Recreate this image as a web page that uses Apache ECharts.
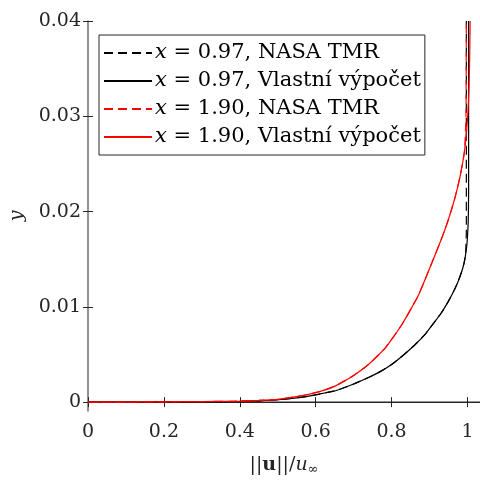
<!DOCTYPE html>
<html>
<head>
<meta charset="utf-8">
<script src="https://cdn.jsdelivr.net/npm/echarts@6/dist/echarts.min.js"></script>
<style>
  html, body { margin: 0; padding: 0; background: #fff; }
  #chart { width: 480px; height: 481px; }
</style>
</head>
<body>
<div id="chart"></div>
<script>
// osa x: ||u||/u_inf, osa y: y
var xTicks = [0, 0.2, 0.4, 0.6, 0.8, 1];
var yTicks = [0, 0.01, 0.02, 0.03, 0.04];

// x = 0.97, NASA TMR
var u097Nasa = [0, 0.1, 0.2, 0.3, 0.4, 0.45, 0.5, 0.565, 0.61, 0.652, 0.7, 0.739, 0.77, 0.8, 0.83, 0.861, 0.89, 0.913, 0.93, 0.948, 0.962, 0.974, 0.984, 0.991, 0.995, 0.997, 0.997];
var y097Nasa = [0, 0.00001, 0.00002, 0.00004, 0.00008, 0.00014, 0.00025, 0.00052, 0.00085, 0.0012, 0.0019, 0.00258, 0.0032, 0.00395, 0.0049, 0.0060, 0.0072, 0.0084, 0.0093, 0.01047, 0.0115, 0.01254, 0.0136, 0.0146, 0.0155, 0.0180, 0.0400];
// x = 0.97, vlastni vypocet
var u097Own = [0, 0.1, 0.2, 0.3, 0.4, 0.45, 0.5, 0.565, 0.61, 0.652, 0.7, 0.739, 0.77, 0.8, 0.83, 0.861, 0.89, 0.913, 0.93, 0.948, 0.962, 0.974, 0.984, 0.991, 0.997, 1.0, 1.002, 1.003, 1.003];
var y097Own = [0, 0.00001, 0.00002, 0.00004, 0.00008, 0.00014, 0.00025, 0.00052, 0.00085, 0.0012, 0.0019, 0.00258, 0.0032, 0.00395, 0.0049, 0.0060, 0.0072, 0.0084, 0.0093, 0.01047, 0.0115, 0.01254, 0.0136, 0.0146, 0.0160, 0.01735, 0.0190, 0.0220, 0.0400];
// x = 1.90, NASA TMR
var u190Nasa = [0, 0.1, 0.2, 0.3, 0.4, 0.45, 0.5, 0.565, 0.61, 0.652, 0.7, 0.739, 0.783, 0.826, 0.87, 0.913, 0.935, 0.95, 0.966, 0.98, 0.992, 0.996, 0.997];
var y190Nasa = [0, 0.00001, 0.00003, 0.00006, 0.0001, 0.00018, 0.0003, 0.00068, 0.0011, 0.00171, 0.0028, 0.00395, 0.00567, 0.00807, 0.01116, 0.01529, 0.0175, 0.0192, 0.0213, 0.0236, 0.0263, 0.0300, 0.0400];
// x = 1.90, vlastni vypocet
var u190Own = [0, 0.1, 0.2, 0.3, 0.4, 0.45, 0.5, 0.565, 0.61, 0.652, 0.7, 0.739, 0.783, 0.826, 0.87, 0.913, 0.935, 0.95, 0.966, 0.98, 0.992, 1.0, 1.004, 1.006, 1.007];
var y190Own = [0, 0.00001, 0.00003, 0.00006, 0.0001, 0.00018, 0.0003, 0.00068, 0.0011, 0.00171, 0.0028, 0.00395, 0.00567, 0.00807, 0.01116, 0.01529, 0.0175, 0.0192, 0.0213, 0.0236, 0.0263, 0.0297, 0.0330, 0.0366, 0.0400];

var serif = 'DejaVu Serif';

function pairs(xs, ys) {
    return xs.map(function (v, i) {
        return [v, ys[i]];
    });
}

function line(name, xs, ys, color, dashed) {
    return {
        name: name,
        type: 'line',
        symbol: 'none',
        smooth: 0.15,
        animation: false,
        lineStyle: {color: color, width: 1.2, type: dashed ? [9, 5] : 'solid'},
        itemStyle: {color: color},
        data: pairs(xs, ys)
    };
}

var chart = echarts.init(document.getElementById('chart'));
chart.setOption({
    animation: false,
    grid: {left: 83, top: 21, right: 0, bottom: 64},
    legend: {
        orient: 'vertical',
        left: 99,
        top: 35,
        padding: [6, 4, 6, 4],
        itemWidth: 48,
        itemHeight: 14,
        itemGap: 4,
        borderColor: '#262626',
        borderWidth: 1,
        backgroundColor: '#fff',
        itemStyle: {opacity: 0},
        textStyle: {
            fontFamily: serif, fontSize: 21, lineHeight: 24, color: '#000', padding: [0, 0, 0, -2],
            rich: {i: {fontFamily: serif, fontStyle: 'italic', fontSize: 21, color: '#000'}}
        },
        formatter: function (name) {
            return name.replace(/^x/, '{i|x}');
        },
        data: ['x = 0.97, NASA TMR', 'x = 0.97, Vlastní výpočet', 'x = 1.90, NASA TMR', 'x = 1.90, Vlastní výpočet']
    },
    xAxis: [{
        type: 'value',
        min: 0,
        max: 1.033,
        position: 'bottom',
        name: '{n|||}{b|u}{n|||/}{i|u}{s|∞}',
        nameLocation: 'middle',
        nameGap: 43,
        nameTextStyle: {
            rich: {
                n: {fontFamily: serif, fontSize: 19, color: '#262626'},
                b: {fontFamily: serif, fontSize: 19, fontWeight: 'bold', color: '#262626'},
                i: {fontFamily: serif, fontSize: 19, fontStyle: 'italic', color: '#262626'},
                s: {fontFamily: serif, fontSize: 13, color: '#262626', padding: [9, 0, 0, 0]}
            }
        },
        axisLine: {lineStyle: {color: '#6e6e6e', width: 1.5}},
        axisTick: {inside: true, length: 5, customValues: xTicks, lineStyle: {color: '#262626'}},
        axisLabel: {customValues: xTicks, fontFamily: serif, fontSize: 19, color: '#262626', margin: 12},
        splitLine: {show: false}
    }, {
        type: 'value',
        min: 0,
        max: 1.033,
        position: 'top',
        axisLine: {show: true, lineStyle: {color: '#262626', width: 1}},
        axisTick: {inside: true, length: 5, customValues: xTicks, lineStyle: {color: '#262626'}},
        axisLabel: {show: false},
        splitLine: {show: false}
    }],
    yAxis: [{
        type: 'value',
        min: -0.00093,
        max: 0.04,
        position: 'left',
        name: 'y',
        nameLocation: 'middle',
        nameRotate: 90,
        nameGap: 61,
        nameTextStyle: {fontFamily: serif, fontSize: 19, fontStyle: 'italic', color: '#262626'},
        axisLine: {lineStyle: {color: '#6e6e6e', width: 1.5}},
        axisTick: {inside: true, length: 5, customValues: yTicks, lineStyle: {color: '#262626'}},
        axisLabel: {customValues: yTicks, fontFamily: serif, fontSize: 19, color: '#262626', margin: 7},
        splitLine: {show: false}
    }, {
        type: 'value',
        min: -0.00093,
        max: 0.04,
        position: 'right',
        axisLine: {show: false},
        axisTick: {inside: true, length: 5, customValues: yTicks, lineStyle: {color: '#262626'}},
        axisLabel: {show: false},
        splitLine: {show: false}
    }],
    series: [
        line('x = 0.97, NASA TMR', u097Nasa, y097Nasa, '#000', true),
        line('x = 0.97, Vlastní výpočet', u097Own, y097Own, '#000', false),
        line('x = 1.90, NASA TMR', u190Nasa, y190Nasa, '#ff0000', true),
        line('x = 1.90, Vlastní výpočet', u190Own, y190Own, '#ff0000', false)
    ]
});
</script>
</body>
</html>
